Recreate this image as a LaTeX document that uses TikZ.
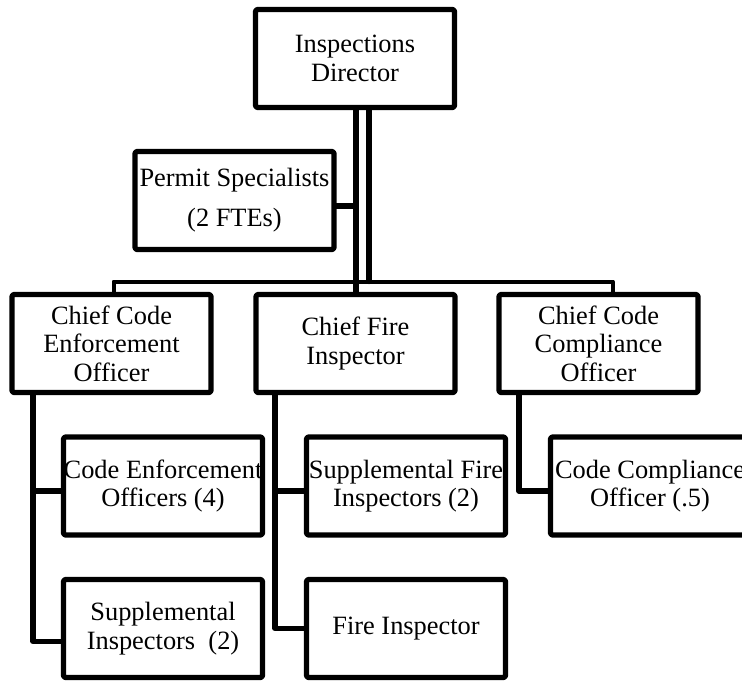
\documentclass[tikz,border=0pt]{standalone}
\usepackage{fontspec}
\setmainfont{Liberation Serif}
\usetikzlibrary{calc, positioning}

\tikzset{
  post/.style={draw, line width=2.6pt, line join=round, rounded corners=0.8pt,
    minimum width=99.5pt, minimum height=49pt, inner sep=0pt, align=center,
    font=\fontsize{13.2}{14.25}\selectfont},
  link/.style={line width=2.6pt, line join=round, line cap=round},
  bar/.style={line width=2pt, line join=round}
}

\begin{document}
\begin{tikzpicture}[x=0.5pt, y=-0.5pt]
    \useasboundingbox (0,0) rectangle (742,680);
    \clip (0,0) rectangle (742,680);
    \fill[white] (0,0) rectangle (742,680);
    % top of the office
    \node[post] (dir) at (355,58.5) {Inspections\\Director};
    \node[post] (perm) at (234.5,200.5) {Permit Specialists\\[5.75pt](2 FTEs)};
    % the three chiefs
    \node[post] (cce) at (111.5,343.5) {Chief Code\\Enforcement\\Officer};
    \node[post] (cfi) at (355.5,343.5) {Chief Fire\\Inspector};
    \node[post] (ccc) at (598.5,343.5) {Chief Code\\Compliance\\Officer};
    % staff under each chief
    \node[post] (ceo) at (163,486) {Code Enforcement\\Officers (4)};
    \node[post] (sup) at (163,628.5) {Supplemental\\Inspectors~ (2)};
    \node[post] (sfi) at (406,486) {Supplemental Fire\\Inspectors (2)};
    \node[post] (fi) at (406,628.5) {Fire Inspector};
    \node[post] (cco) at (650,486) {Code Compliance\\Officer (.5)};
    % trunk and cross bar
    \coordinate (trunkA) at (356,0);
    \coordinate (trunkB) at (369,0);
    \coordinate (barL) at (113.5,281.5);
    \coordinate (barR) at (612.5,281.5);
    \draw[link, line width=3pt] (trunkA |- dir.south) -- (trunkA |- cfi.north);
    \draw[link] (trunkB |- dir.south) -- (trunkB |- barL);
    \draw[bar] (barL |- cce.north) -- (barL) -- (barR) -- (barR |- ccc.north);
    \coordinate (permIn) at ($(perm.east)+(0,5.5)$);
    \draw[link] (permIn) -- (permIn -| trunkA);
    % spines down to the staff
    \coordinate (spineL) at (33,0);
    \coordinate (spineM) at (275,0);
    \coordinate (spineR) at (519,0);
    \coordinate (ceoIn) at ($(ceo.west)+(0,5)$);
    \coordinate (supIn) at ($(sup.west)+(0,13)$);
    \coordinate (sfiIn) at ($(sfi.west)+(0,5)$);
    \coordinate (ccoIn) at ($(cco.west)+(0,5)$);
    \draw[link] (spineL |- cce.south) |- (supIn);
    \draw[link] (ceoIn -| spineL) -- (ceoIn);
    \draw[link] (spineM |- cfi.south) |- (fi.west);
    \draw[link] (sfiIn -| spineM) -- (sfiIn);
    \draw[link] (spineR |- ccc.south) |- (ccoIn);
\end{tikzpicture}
\end{document}
